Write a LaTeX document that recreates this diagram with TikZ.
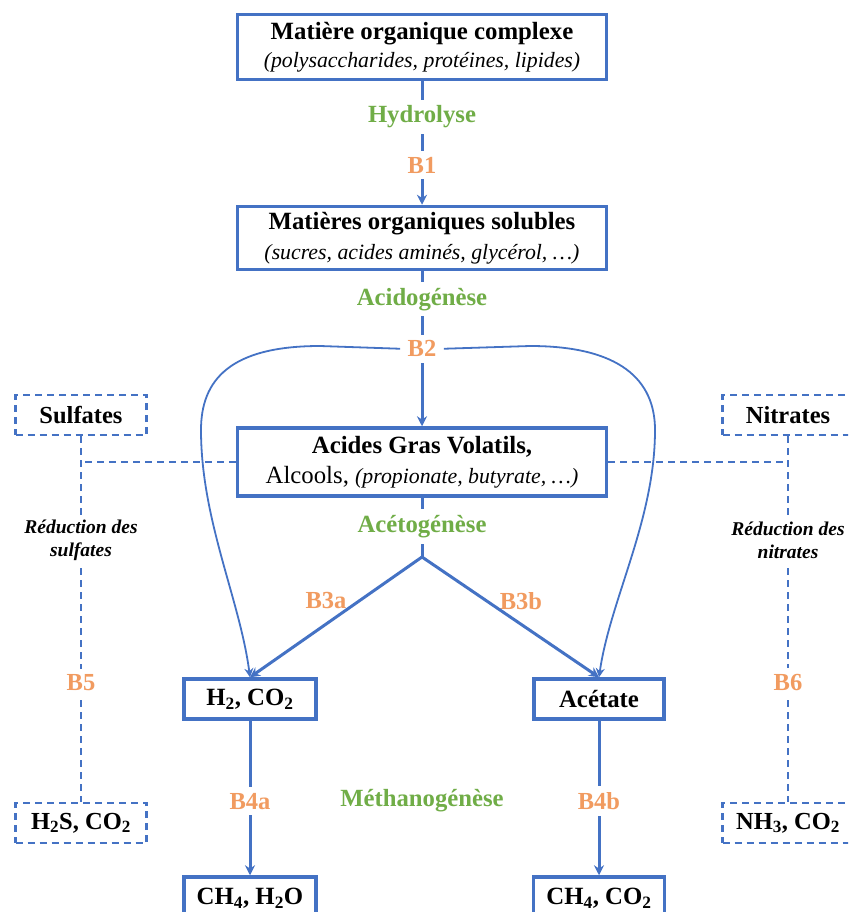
\documentclass[tikz,border=0pt]{standalone}
\usepackage{fontspec}
\setmainfont{Liberation Serif}
\usetikzlibrary{arrows.meta,calc}

\definecolor{boxblue}{RGB}{68,114,196}
\definecolor{phasegreen}{RGB}{112,173,71}
\definecolor{bactorange}{RGB}{241,155,96}

\tikzset{
  mainbox/.style={draw=boxblue, line width=3.5pt, fill=white, align=center, inner sep=0pt, font=\fontsize{24.8}{30}\selectfont},
  sidebox/.style={draw=boxblue, line width=2.2pt, dash pattern=on 7pt off 5pt, align=center, inner sep=0pt, minimum width=131pt, minimum height=40pt, font=\fontsize{24.5}{30}\selectfont\bfseries},
  flow/.style={draw=boxblue, line width=3pt, ->},
  curve/.style={draw=boxblue, line width=1.8pt, -{Stealth[length=9pt,width=9pt]}},
  sideline/.style={draw=boxblue, line width=2.2pt, dash pattern=on 7pt off 5pt},
  phase/.style={fill=white, text=phasegreen, inner sep=6pt, font=\fontsize{24.7}{30}\selectfont\bfseries},
  bact/.style={fill=white, text=bactorange, inner sep=6pt, font=\fontsize{24.5}{30}\selectfont\bfseries},
  reduc/.style={fill=white, align=center, inner sep=4pt, font=\fontsize{19.5}{23}\selectfont\bfseries\itshape}
}

\begin{document}
\begin{tikzpicture}[x=1pt, y=-1pt, >={Stealth[length=10pt,width=10pt]}]
  \path[use as bounding box, clip] (0,0) rectangle (848,912);
  % Nodes
  \node[mainbox, minimum width=369pt, minimum height=65pt] (complexe) at (422,47) {\textbf{Matière organique complexe}\\[-2pt]{\fontsize{21.8}{30}\selectfont\itshape (polysaccharides, protéines, lipides)}};
  \node[mainbox, minimum width=369pt, minimum height=63pt] (solubles) at (422,238) {\textbf{Matières organiques solubles}\\{\fontsize{21.8}{30}\selectfont\itshape (sucres, acides aminés, glycérol, …)}};
  \node[mainbox, minimum width=369pt, minimum height=68pt] (agv) at (422,462) {\textbf{Acides Gras Volatils,}\\Alcools, {\fontsize{21.8}{30}\selectfont\itshape (propionate, butyrate, …)}};
  \coordinate (fork) at (422,557);
  \node[mainbox, minimum width=132pt, minimum height=40pt] (h2) at (250,699) {\textbf{H\textsubscript{2}, CO\textsubscript{2}}};
  \node[mainbox, minimum width=130pt, minimum height=40pt] (acetate) at (599,699) {\textbf{Acétate}};
  \node[mainbox, minimum width=132pt, minimum height=42pt] (ch4a) at (250,898) {\textbf{CH\textsubscript{4}, H\textsubscript{2}O}};
  \node[mainbox, minimum width=131pt, minimum height=42pt] (ch4b) at (599,898) {\textbf{CH\textsubscript{4}, CO\textsubscript{2}}};
  \node[sidebox] (sulfates) at (81,415) {Sulfates};
  \node[sidebox] (h2s) at (81,823) {H\textsubscript{2}S, CO\textsubscript{2}};
  \node[sidebox] (nitrates) at (788,415) {Nitrates};
  \node[sidebox] (nh3) at (788,823) {NH\textsubscript{3}, CO\textsubscript{2}};
  \node[bact] (b3a) at (326,601) {B3a};
  \node[bact] (b3b) at (521,601) {B3b};
  \node[phase] (metha) at (422,801) {Méthanogénèse};
  % Edges
  \draw[flow] (complexe) -- node[phase, pos=0.29]{Hydrolyse} node[bact, pos=0.68]{B1} (solubles);
  \draw[flow] (solubles) -- node[phase, pos=0.18]{Acidogénèse} node[bact, pos=0.5](b2){B2} (agv);
  \draw[flow, -] (agv) -- node[phase, pos=0.48]{Acétogénèse} (fork);
  \draw[flow] (fork) -- (h2.north);
  \draw[flow] (fork) -- (acetate.north);
  \draw[curve] (b2.west) -- (320,346) .. controls (230,346) and (201,380) .. (201,430) .. controls (201,520) and (240,600) .. (h2.north);
  \draw[curve] (b2.east) -- (530,346) .. controls (620,346) and (655,380) .. (655,430) .. controls (655,520) and (610,600) .. (acetate.north);
  \draw[flow] (h2) -- node[bact, pos=0.52]{B4a} (ch4a);
  \draw[flow] (acetate) -- node[bact, pos=0.52]{B4b} (ch4b);
  % side reductions
  \draw[sideline] (agv.west) -- (agv.west -| sulfates.south);
  \draw[sideline] (agv.east) -- (agv.east -| nitrates.south);
  \draw[sideline] (sulfates) -- node[reduc, pos=0.285]{Réduction des\\sulfates} node[bact, pos=0.674]{B5} (h2s);
  \draw[sideline] (nitrates) -- node[reduc, pos=0.285]{Réduction des\\nitrates} node[bact, pos=0.674]{B6} (nh3);
\end{tikzpicture}
\end{document}
